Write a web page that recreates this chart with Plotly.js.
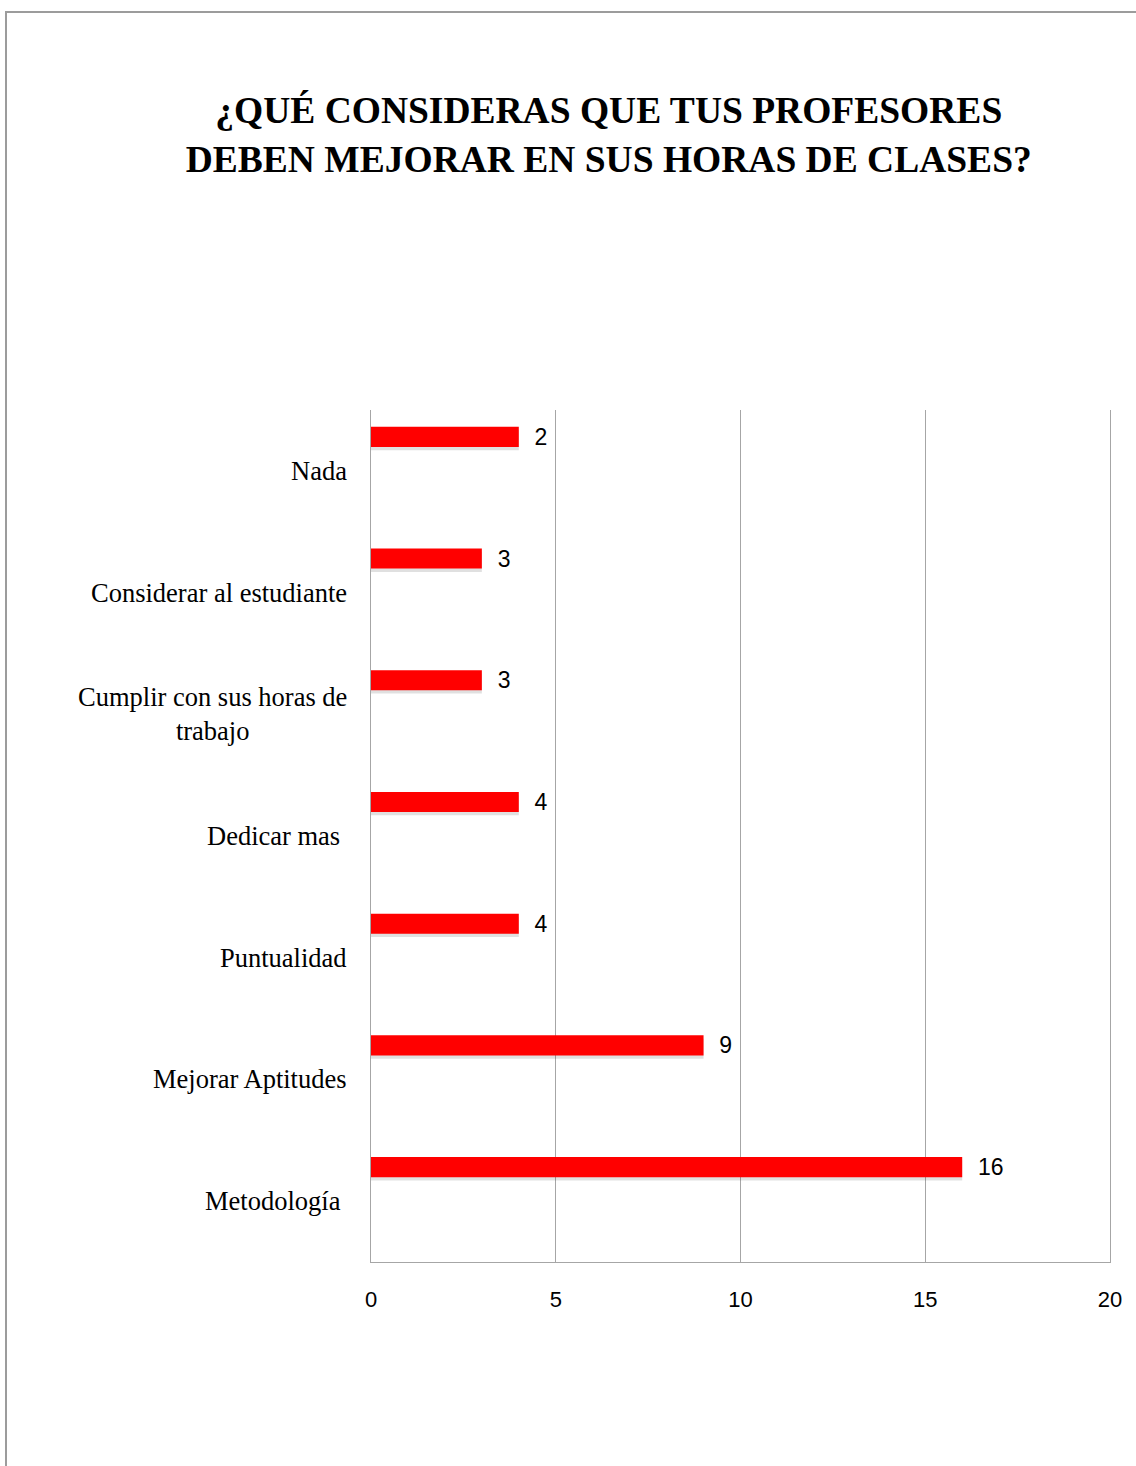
<!DOCTYPE html>
<html>
<head>
<meta charset="utf-8">
<script src="https://cdn.plot.ly/plotly-3.0.1.min.js"></script>
<style>
  html, body { margin: 0; padding: 0; background: #ffffff; }
  #wrap { position: absolute; left: 5px; top: 11px; width: 1131px; height: 1455px;
          border-left: 2px solid #9c9c9c; border-top: 2px solid #9c9c9c; background:#fff; }
  #chart { width: 1129px; height: 1453px; }
</style>
</head>
<body>
<div id="wrap"><div id="chart"></div></div>
<script>
// Categories, top to bottom as shown
const categories = ["Nada", "Considerar al estudiante", "Cumplir con sus horas de trabajo",
                    "Dedicar mas", "Puntualidad", "Mejorar Aptitudes", "Metodología"];
// Category label text as displayed (line break in the long one)
const categoryLabels = ["Nada", "Considerar al estudiante", "Cumplir con sus horas de<br>trabajo",
                        "Dedicar mas\u00a0", "Puntualidad", "Mejorar Aptitudes", "Metodología\u00a0"];
// Bar lengths as drawn
const barValues = [4, 3, 3, 4, 4, 9, 16];
// Data labels as printed next to the bars
const dataLabels = ["2", "3", "3", "4", "4", "9", "16"];
const xTicks = [0, 5, 10, 15, 20];
const titleText = "¿QUÉ CONSIDERAS QUE TUS PROFESORES<br>DEBEN MEJORAR EN SUS HORAS DE CLASES?";

const shadow = {
  type: "bar", orientation: "h",
  x: barValues, y: categories,
  offset: -0.335, width: 0.165,
  marker: { color: "rgba(60,60,60,0.16)", line: { width: 0 } },
  hoverinfo: "skip", showlegend: false
};
const bars = {
  type: "bar", orientation: "h",
  x: barValues, y: categories,
  offset: -0.362, width: 0.165,
  marker: { color: "#ff0000", line: { width: 0 } },
  text: dataLabels.map(t => "\u00a0\u00a0" + t),
  textposition: "outside",
  constraintext: "none",
  cliponaxis: false,
  textfont: { family: "Liberation Sans, Arial, sans-serif", size: 23, color: "#000000" },
  showlegend: false
};

const annotations = categories.map((c, i) => ({
  text: categoryLabels[i],
  x: 0, xref: "paper", xanchor: "right", xshift: -22,
  y: c, yref: "y", yanchor: "middle",
  align: "center", showarrow: false,
  font: { family: "Liberation Serif, Times New Roman, serif", size: 26.5, color: "#000000" }
}));

const layout = {
  width: 1129, height: 1453,
  paper_bgcolor: "#ffffff", plot_bgcolor: "#ffffff",
  margin: { l: 364, r: 26, t: 397, b: 204 },
  barmode: "overlay",
  showlegend: false,
  title: {
    text: titleText,
    x: 0.533, xref: "container", xanchor: "center",
    y: 0.924, yref: "container", yanchor: "top",
    font: { family: "Liberation Serif, Times New Roman, serif", size: 37.5, color: "#000000", weight: "bold" }
  },
  xaxis: {
    range: [0, 20], tickvals: xTicks, ticktext: xTicks.map(String),
    showgrid: true, gridcolor: "#a6a6a6", gridwidth: 1,
    zeroline: false, showline: true, linecolor: "#a6a6a6", linewidth: 1,
    ticks: "", ticklabelstandoff: 18,
    tickfont: { family: "Liberation Sans, Arial, sans-serif", size: 22, color: "#000000" },
    fixedrange: true
  },
  yaxis: {
    type: "category", categoryorder: "array", categoryarray: categories,
    range: [6.5, -0.5],
    showticklabels: false, showgrid: false, zeroline: false,
    showline: true, mirror: true, linecolor: "#a6a6a6", linewidth: 1, ticks: "",
    fixedrange: true
  },
  annotations: annotations
};

Plotly.newPlot("chart", [shadow, bars], layout, { displayModeBar: false, staticPlot: true });
</script>
</body>
</html>
